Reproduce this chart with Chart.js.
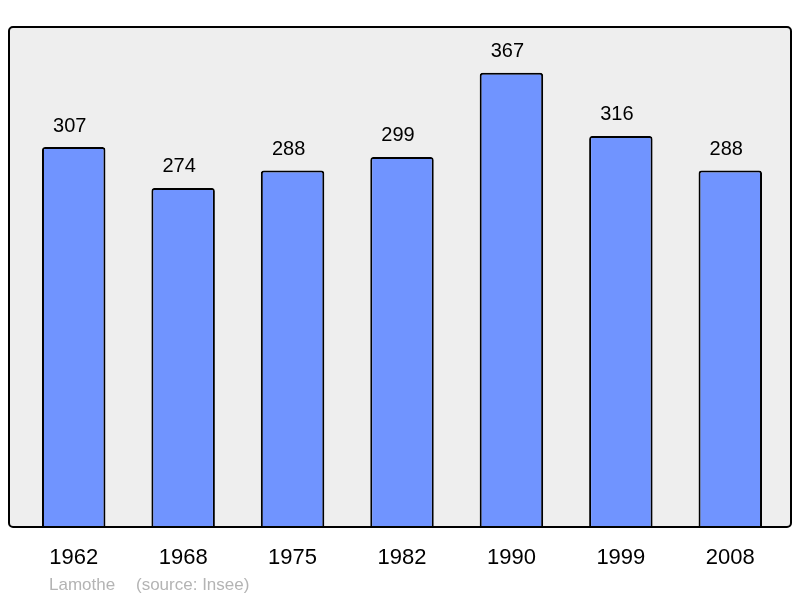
<!DOCTYPE html>
<html>
<head>
<meta charset="utf-8">
<script src="https://cdn.jsdelivr.net/npm/chart.js@4/dist/chart.umd.min.js"></script>
<style>
  html, body { margin: 0; padding: 0; background: #ffffff; }
  #wrap { width: 800px; height: 598px; }
</style>
</head>
<body>
<div id="wrap"><canvas id="popChart" width="800" height="598"></canvas></div>
<script>
const years = ["1962", "1968", "1975", "1982", "1990", "1999", "2008"];
const population = [307, 274, 288, 299, 367, 316, 288];
const yMax = 404;
const townName = "Lamothe";
const sourceText = "(source: Insee)";

const FONT = "'Liberation Sans', Arial, sans-serif";

function roundRect(ctx, x, y, w, h, r) {
  ctx.beginPath();
  ctx.moveTo(x + r, y);
  ctx.lineTo(x + w - r, y);
  ctx.arcTo(x + w, y, x + w, y + r, r);
  ctx.lineTo(x + w, y + h - r);
  ctx.arcTo(x + w, y + h, x + w - r, y + h, r);
  ctx.lineTo(x + r, y + h);
  ctx.arcTo(x, y + h, x, y + h - r, r);
  ctx.lineTo(x, y + r);
  ctx.arcTo(x, y, x + r, y, r);
  ctx.closePath();
}

// frame box around plot, a bit wider than chart area
const framePlugin = {
  id: "frame",
  beforeDatasetsDraw(chart) {
    const { ctx, chartArea: a } = chart;
    ctx.save();
    roundRect(ctx, 9, a.top, 782, a.bottom - a.top, 4);
    ctx.fillStyle = "#eeeeee";
    ctx.fill();
    ctx.restore();
  },
  afterDatasetsDraw(chart) {
    const { ctx, chartArea: a } = chart;
    ctx.save();
    roundRect(ctx, 9, a.top, 782, a.bottom - a.top, 4);
    ctx.lineWidth = 2;
    ctx.strokeStyle = "#000000";
    ctx.stroke();

    // values above bars
    const meta = chart.getDatasetMeta(0);
    ctx.fillStyle = "#000000";
    ctx.font = "20px " + FONT;
    ctx.textAlign = "center";
    ctx.textBaseline = "middle";
    meta.data.forEach((bar, i) => {
      ctx.fillText(String(population[i]), bar.x - 4, bar.y - 21);
    });

    // footer
    ctx.fillStyle = "#b4b4b4";
    ctx.font = "17px " + FONT;
    ctx.textAlign = "left";
    ctx.fillText(townName, 49, 585);
    ctx.fillText(sourceText, 136, 585);
    ctx.restore();
  }
};

new Chart(document.getElementById("popChart"), {
  type: "bar",
  data: {
    labels: years,
    datasets: [{
      data: population,
      backgroundColor: "#7094ff",
      borderColor: "#000000",
      borderWidth: 2,
      borderRadius: { topLeft: 3, topRight: 3, bottomLeft: 0, bottomRight: 0 },
      borderSkipped: "bottom",
      categoryPercentage: 1,
      barPercentage: 0.58
    }]
  },
  options: {
    responsive: false,
    animation: false,
    devicePixelRatio: 1,
    layout: { padding: { left: 19, right: 15, top: 27, bottom: 0 } },
    plugins: { legend: { display: false }, tooltip: { enabled: false } },
    scales: {
      x: {
        grid: { display: false, drawTicks: false },
        border: { display: false },
        ticks: { color: "#000000", font: { size: 22, family: FONT }, padding: 18, maxRotation: 0 },
        afterFit(scale) { scale.height = 71; }
      },
      y: {
        display: false,
        min: 0,
        max: yMax
      }
    }
  },
  plugins: [framePlugin]
});
</script>
</body>
</html>
